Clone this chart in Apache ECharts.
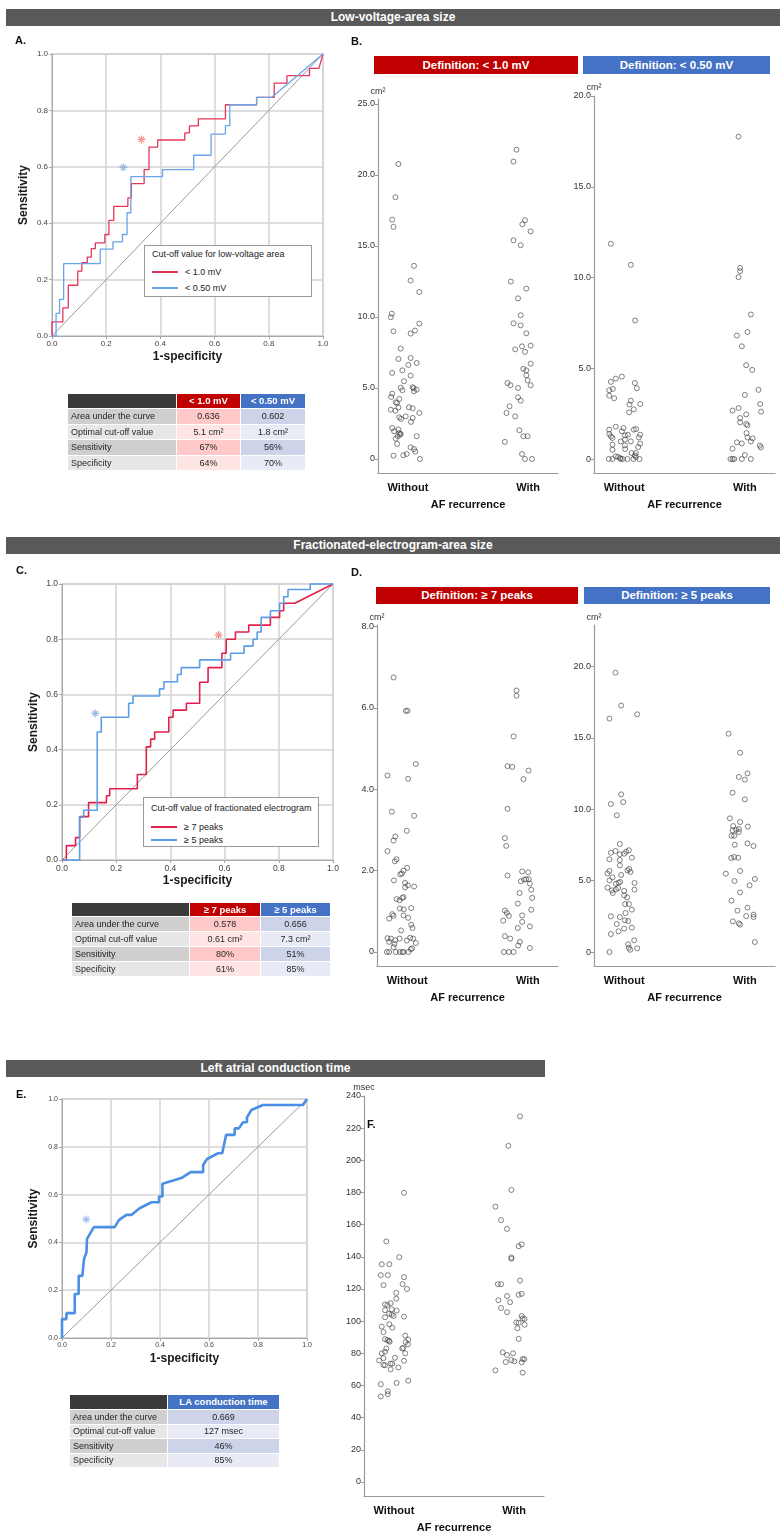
<!DOCTYPE html>
<html>
<head>
<meta charset="utf-8">
<script src="https://cdn.jsdelivr.net/npm/echarts@6.0.0/dist/echarts.min.js"></script>
<style>
html,body{margin:0;padding:0;background:#fff;}
#wrap{position:relative;width:780px;height:1534px;overflow:hidden;font-family:'Liberation Sans',Arial,sans-serif;}
#chart{position:absolute;left:0;top:0;width:780px;height:1534px;}
.bar{position:absolute;color:#fff;font-weight:bold;text-align:center;white-space:nowrap;}
.main{background:#595959;font-family:'Liberation Sans Narrow','Liberation Sans',Arial,sans-serif;font-size:12px;}
.sub{font-size:11.5px;}
.red{background:#C00000;}
.blue{background:#4472C4;}
.lab{position:absolute;font-weight:bold;font-size:11px;color:#111;line-height:12px;}
.leg{position:absolute;border:1px solid #9a9a9a;background:#fff;font-size:9px;color:#222;box-sizing:border-box;}
.leg .t{position:absolute;left:7px;white-space:nowrap;line-height:10px;}
.leg .ln{position:absolute;left:7px;width:26px;height:1.6px;}
.leg .lt{position:absolute;left:40px;white-space:nowrap;line-height:10px;}
table.st{position:absolute;border-collapse:collapse;table-layout:fixed;font-size:9px;color:#262626;}
table.st td{border:1px solid #fff;padding:0 3px;white-space:nowrap;overflow:hidden;line-height:10px;}
</style>
</head>
<body>
<div id="wrap">
<div id="chart"></div>
<div id="ov"></div>
</div>
<script>
// ---------------- DATA ----------------
const catLabels = ['Without', 'With'];

// ROC curves: [1-specificity, sensitivity]
const rocA_lt10 = [[0,0],[0,0.05],[0.04,0.05],[0.04,0.1],[0.06,0.1],[0.06,0.18],[0.095,0.18],[0.095,0.23],[0.11,0.23],[0.11,0.26],[0.13,0.26],[0.13,0.28],[0.145,0.28],[0.145,0.31],[0.16,0.31],[0.16,0.33],[0.195,0.33],[0.195,0.36],[0.21,0.36],[0.21,0.41],[0.228,0.41],[0.228,0.46],[0.28,0.46],[0.28,0.49],[0.293,0.49],[0.293,0.54],[0.34,0.54],[0.34,0.59],[0.358,0.59],[0.358,0.67],[0.39,0.67],[0.39,0.695],[0.49,0.695],[0.49,0.72],[0.507,0.72],[0.507,0.745],[0.54,0.745],[0.54,0.77],[0.64,0.77],[0.64,0.82],[0.755,0.82],[0.755,0.846],[0.82,0.846],[0.82,0.897],[0.867,0.897],[0.867,0.923],[0.95,0.923],[0.95,0.949],[0.985,0.949],[1,1]];
const rocA_lt050 = [[0,0],[0.015,0],[0.015,0.08],[0.028,0.08],[0.028,0.13],[0.043,0.13],[0.043,0.257],[0.178,0.257],[0.178,0.308],[0.225,0.308],[0.225,0.334],[0.26,0.334],[0.26,0.36],[0.277,0.36],[0.277,0.437],[0.291,0.437],[0.291,0.565],[0.408,0.565],[0.408,0.59],[0.523,0.59],[0.523,0.641],[0.587,0.641],[0.587,0.716],[0.64,0.716],[0.64,0.746],[0.656,0.746],[0.656,0.82],[0.755,0.82],[0.755,0.846],[0.81,0.846],[1,1]];
const rocC_ge7 = [[0,0],[0.016,0],[0.016,0.052],[0.05,0.052],[0.05,0.081],[0.065,0.081],[0.065,0.157],[0.098,0.157],[0.098,0.208],[0.164,0.208],[0.164,0.233],[0.176,0.233],[0.176,0.258],[0.278,0.258],[0.278,0.31],[0.311,0.31],[0.311,0.41],[0.327,0.41],[0.327,0.438],[0.342,0.438],[0.342,0.464],[0.394,0.464],[0.394,0.517],[0.41,0.517],[0.41,0.543],[0.459,0.543],[0.459,0.568],[0.508,0.568],[0.508,0.644],[0.539,0.644],[0.539,0.697],[0.59,0.697],[0.59,0.749],[0.606,0.749],[0.606,0.8],[0.64,0.8],[0.64,0.826],[0.689,0.826],[0.689,0.851],[0.769,0.851],[0.769,0.879],[0.803,0.879],[0.803,0.903],[0.818,0.903],[0.818,0.93],[0.859,0.93],[1,1]];
const rocC_ge5 = [[0,0],[0.065,0],[0.065,0.155],[0.08,0.155],[0.08,0.18],[0.13,0.18],[0.13,0.464],[0.145,0.464],[0.145,0.517],[0.246,0.517],[0.246,0.568],[0.262,0.568],[0.262,0.594],[0.36,0.594],[0.36,0.62],[0.376,0.62],[0.376,0.646],[0.426,0.646],[0.426,0.672],[0.44,0.672],[0.44,0.697],[0.508,0.697],[0.508,0.725],[0.622,0.725],[0.622,0.749],[0.672,0.749],[0.672,0.775],[0.705,0.775],[0.705,0.8],[0.72,0.8],[0.72,0.826],[0.735,0.826],[0.735,0.879],[0.769,0.879],[0.769,0.903],[0.803,0.903],[0.803,0.93],[0.818,0.93],[0.818,0.954],[0.834,0.954],[0.834,0.98],[0.916,0.98],[0.916,1],[1,1]];
const rocE_lact = [[0,0],[0,0.079],[0.018,0.079],[0.018,0.104],[0.052,0.104],[0.052,0.184],[0.068,0.184],[0.068,0.26],[0.083,0.26],[0.09,0.33],[0.1,0.36],[0.102,0.415],[0.13,0.464],[0.215,0.464],[0.233,0.494],[0.263,0.515],[0.283,0.515],[0.317,0.543],[0.365,0.568],[0.396,0.568],[0.396,0.592],[0.41,0.592],[0.41,0.645],[0.487,0.669],[0.525,0.694],[0.576,0.694],[0.576,0.724],[0.592,0.749],[0.637,0.773],[0.654,0.773],[0.67,0.85],[0.705,0.85],[0.705,0.877],[0.722,0.877],[0.739,0.903],[0.755,0.903],[0.755,0.923],[0.773,0.954],[0.82,0.975],[0.984,0.975],[1,1]];
const rocDiagonal = [[0,0],[1,1]];

// optimal cut-off points
const cutA_lt10 = [0.33, 0.697];
const cutA_lt050 = [0.263, 0.598];
const cutC_ge7 = [0.578, 0.815];
const cutC_ge5 = [0.123, 0.531];
const cutE_lact = [0.099, 0.496];

// Strip plots: values and horizontal jitter (category units)
const b1WithoutVals = [20.77,18.43,16.85,16.34,13.6,12.56,11.76,10.23,9.98,9.53,8.99,9.04,8.83,7.77,7.04,7.11,6.76,6.62,6.24,6.06,5.87,5.47,5.02,4.84,5.05,4.77,4.88,4.98,4.6,4.37,4.23,3.99,3.94,3.62,3.47,3.4,3.64,3.57,3.24,3.0,2.93,2.82,2.89,2.61,2.18,1.95,2.07,1.83,1.71,1.6,1.76,1.6,1.43,1.06,0.82,0.7,0.52,0.35,0.26,0.23,0];
const b1WithoutJit = [-0.08,-0.105,-0.132,-0.121,0.05,0.022,0.094,-0.135,-0.143,0.094,-0.121,0.058,0.022,-0.061,-0.08,0.022,0.072,0.003,-0.047,-0.132,0.022,-0.033,-0.061,-0.047,0.039,0.05,0.072,0.047,-0.132,-0.14,-0.072,-0.102,-0.091,-0.08,-0.143,-0.105,0.008,0.039,0.094,-0.019,-0.072,-0.058,0.039,0.025,-0.132,-0.116,-0.08,-0.072,-0.066,-0.085,-0.061,0.072,-0.102,-0.091,0.022,0.05,0.061,-0.011,-0.039,-0.121,0.099];
const b1WithVals = [21.78,20.94,16.81,16.53,16.03,15.4,15.05,12.49,12.0,11.31,10.12,9.55,9.41,8.85,7.93,7.98,7.72,7.54,6.71,6.34,6.24,5.89,5.54,5.35,5.19,5.19,5.0,4.34,4.11,3.71,3.24,3.0,2.02,1.6,1.6,1.2,0.35,0,0];
const b1WithJit = [-0.096,-0.121,-0.025,-0.047,0.022,-0.121,-0.061,-0.143,-0.014,-0.083,-0.061,-0.121,-0.061,-0.014,-0.05,0.022,-0.107,-0.025,0.022,-0.039,-0.014,-0.014,-0.003,-0.171,-0.146,0.022,-0.083,-0.083,-0.061,-0.154,-0.179,-0.107,-0.072,-0.039,-0.003,-0.193,-0.05,-0.025,0.033];

const b2WithoutVals = [11.86,10.7,7.63,4.54,4.43,4.25,4.19,3.9,3.79,3.86,3.49,3.35,3.22,3.0,3.03,2.74,2.57,1.78,1.62,1.71,1.65,1.62,1.53,1.38,1.25,1.34,1.34,1.3,1.16,1.19,0.97,1.07,0.97,0.85,0.79,0.75,0.55,0.51,0.66,0.33,0.33,0.2,0.15,0.11,0,0,0,0,0,0,0,0.11,0.05];
const b2WithoutJit = [-0.11,0.055,0.091,-0.019,-0.069,-0.11,0.088,0.105,-0.124,-0.094,-0.124,-0.083,0.055,0.044,0.133,0.08,0.041,-0.069,-0.124,-0.006,0.099,0.08,-0.019,-0.124,-0.11,0.133,0.03,0.006,-0.097,0.122,-0.028,0.006,0.055,0.133,-0.097,0.006,0.008,-0.097,0.116,0.061,0.097,0.088,-0.069,-0.05,-0.127,-0.097,-0.028,-0.011,0.028,0.077,0.127,0.097,-0.033];
const b2WithVals = [17.76,10.53,10.35,10.02,7.96,7.0,6.8,6.21,5.17,4.91,3.81,3.53,3.03,2.81,2.67,2.61,2.46,2.26,2.02,1.93,1.86,1.43,1.19,1.14,0.97,0.92,0.86,0.74,0.64,0.57,0.22,0,0,0,0,0];
const b2WithJit = [-0.052,-0.039,-0.039,-0.052,0.05,0.022,-0.066,-0.025,0.011,0.061,0.113,0,0.127,-0.052,-0.102,0.135,0.011,-0.039,-0.039,0.011,0.022,0.014,0.022,0.064,0.05,-0.066,-0.025,0.124,0.133,-0.102,0,-0.119,-0.102,-0.088,-0.025,0.05];

const d1WithoutVals = [6.75,5.93,5.93,4.62,4.34,4.26,3.45,3.35,2.98,2.84,2.74,2.48,2.28,2.23,2.07,2.0,1.93,1.91,1.76,1.7,1.64,1.59,1.61,1.35,1.33,1.3,1.27,1.07,1.05,1.08,0.93,0.89,0.82,0.9,0.84,0.67,0.59,0.53,0.34,0.33,0.33,0.35,0.33,0.25,0.29,0.2,0.28,0.22,0.12,0.09,0.07,0,0,0,0,0,0,0];
const d1WithoutJit = [-0.113,-0.011,0.003,0.072,-0.163,0.008,-0.127,0.058,-0.003,-0.099,-0.113,-0.163,-0.088,-0.102,0,-0.03,-0.044,-0.058,-0.11,-0.017,0.006,-0.017,0.058,-0.03,-0.041,-0.088,-0.063,-0.061,-0.028,0.033,-0.124,-0.113,-0.149,-0.03,0.008,0.033,0.044,-0.05,-0.163,-0.135,-0.063,0.025,0.05,-0.149,-0.099,-0.105,-0.003,0.072,-0.113,0.041,0.03,-0.168,-0.149,-0.094,-0.061,-0.039,0.011,-0.03];
const d1WithVals = [6.43,6.3,5.3,4.57,4.55,4.46,4.25,3.52,2.8,2.61,1.88,1.98,1.96,1.74,1.78,1.79,1.79,1.68,1.53,1.33,1.45,1.19,1.02,0.96,0.89,0.77,1.04,0.9,0.74,0.59,0.63,0.39,0.33,0.25,0.16,0.1,0,0,0];
const d1WithJit = [-0.094,-0.094,-0.118,-0.168,-0.129,0.006,-0.036,-0.168,-0.19,-0.179,-0.168,-0.047,0.003,-0.058,-0.03,-0.014,0.008,0.017,0.028,0.036,-0.069,-0.083,-0.19,-0.174,-0.157,-0.204,0.028,-0.047,-0.047,-0.083,0.017,-0.19,-0.146,-0.066,-0.08,0.017,-0.198,-0.157,-0.118];

const d2WithoutVals = [19.58,17.27,16.36,16.66,11.05,10.37,10.51,9.58,7.57,6.96,7.08,6.85,6.89,7.03,7.13,6.61,6.5,6.45,6.07,5.72,5.82,5.61,5.51,5.68,5.4,5.23,5.02,4.86,4.79,4.91,4.84,4.51,4.32,4.14,4.39,4.49,4.28,4.37,3.97,3.83,3.36,3.36,2.97,2.73,2.5,2.45,2.22,2.17,1.96,1.71,1.64,1.45,1.26,0.82,0.54,0.3,0.16,0.26,0];
const d2WithoutJit = [-0.072,-0.025,-0.122,0.108,-0.025,-0.11,-0.008,-0.061,-0.036,-0.11,-0.072,-0.036,0,0.017,0.039,0.064,-0.122,-0.036,-0.036,0.028,0.041,0.052,-0.138,-0.122,-0.025,-0.097,-0.122,-0.047,-0.069,-0.033,0.086,-0.138,-0.102,-0.094,-0.069,-0.05,0,0.086,0,0.025,0.008,0.039,0.064,0.011,-0.11,-0.036,0.006,0.033,-0.061,0.064,0,-0.047,-0.11,0.083,0.033,0.039,0.05,0.108,-0.122];
const d2WithVals = [15.3,13.97,12.52,12.27,12.08,11.17,10.7,9.37,9.11,8.83,8.53,8.57,8.41,8.62,8.79,8.15,8.15,7.52,7.62,7.43,6.66,6.59,6.61,5.68,5.49,4.98,5.12,4.67,4.18,3.6,3.11,2.9,2.52,2.62,2.45,2.15,2.01,1.92,0.7];
const d2WithJit = [-0.135,-0.039,0.022,-0.05,0,-0.102,0,-0.124,-0.039,-0.097,-0.102,-0.072,-0.05,-0.05,0.025,-0.11,-0.088,-0.083,0.022,0.072,-0.088,-0.113,-0.055,-0.039,-0.157,-0.086,0.083,0.039,-0.039,-0.11,0.022,-0.061,0.011,0.072,0.072,-0.099,-0.05,-0.039,0.083];

const fWithoutVals = [179.8,149.6,139.8,135.4,135.4,128.6,128.6,127.4,122.4,123,120,117.6,114,111.2,110.4,110,106.8,107.4,106.6,104.6,104,103.2,102.4,102.8,98,96.6,96,93.2,91,88.6,88.8,88.2,87.8,87.2,87,85.6,83.4,83,83,81,80,80,77.2,77,75.6,75.4,72.8,72.6,73.6,73.6,71.2,70,63,61.6,60.8,56.4,54.6,53.2];
const fWithoutJit = [0.083,-0.064,0.044,-0.102,-0.039,-0.11,-0.052,0.083,-0.088,0.072,0.108,0.019,0.019,-0.028,-0.075,-0.055,-0.075,-0.019,0.022,-0.041,-0.019,-0.003,-0.075,0.083,-0.039,-0.102,-0.014,-0.088,0.094,0.119,-0.075,-0.055,-0.041,-0.036,0.097,0.116,0.077,0.069,-0.064,-0.075,-0.102,0.094,0.008,-0.088,-0.124,0.083,-0.088,-0.075,-0.028,-0.014,0.036,-0.028,0.119,0.022,-0.11,-0.052,-0.052,-0.11];
const fWithVals = [227.3,209,181.6,171.2,162.8,157.4,147.8,146.6,139.6,138.8,125.2,123,123,117,116.4,115.6,113,111.8,108.2,105.6,103.2,101.6,101.4,99.2,99,97.8,95.6,89,80.6,80,79,76.4,76.4,75.8,75,74.6,74.4,69.4,68];
const fWithJit = [0.05,-0.047,-0.022,-0.155,-0.108,-0.058,0.064,0.039,-0.022,-0.022,0.05,-0.135,-0.108,0.064,0.039,-0.058,-0.13,-0.033,-0.108,-0.058,0.064,0.072,0.088,0.019,0.039,0.088,0.028,0.039,-0.094,-0.008,-0.058,0.072,0.086,-0.022,0.003,-0.069,0.064,-0.155,0.072];

// axis tick labels
const b1Ticks = [0, 5, 10, 15, 20, 25];
const b2Ticks = [0, 5, 10, 15, 20];
const d1Ticks = [0, 2, 4, 6, 8];
const d2Ticks = [0, 5, 10, 15, 20];
const fTicks = [0, 20, 40, 60, 80, 100, 120, 140, 160, 180, 200, 220, 240];

// tables
const tableRowLabels = ['Area under the curve', 'Optimal cut-off value', 'Sensitivity', 'Specificity'];
const tableA_cols = ['< 1.0 mV', '< 0.50 mV'];
const tableA_vals = [['0.636', '5.1 cm²', '67%', '64%'], ['0.602', '1.8 cm²', '56%', '70%']];
const tableC_cols = ['≥ 7 peaks', '≥ 5 peaks'];
const tableC_vals = [['0.578', '0.61 cm²', '80%', '61%'], ['0.656', '7.3 cm²', '51%', '85%']];
const tableE_cols = ['LA conduction time'];
const tableE_vals = [['0.669', '127 msec', '46%', '85%']];

// ---------------- CHART ----------------
const FONT = "'Liberation Sans', Arial, sans-serif";
const RED = '#E5375B', BLUE = '#69A5EA';
const RED_C = '#E0204A', BLUE_C = '#5C9DE8', BLUE_E = '#4A8FE3';
const starPath = 'path://M5,0L5,10M0,5L10,5M1.6,1.6L8.4,8.4M8.4,1.6L1.6,8.4';

const grids = [], xAxes = [], yAxes = [], series = [];

function addROC(box, fs, curves, markers) {
  const gi = grids.length;
  grids.push({left: box[0], top: box[1], width: box[2], height: box[3], show: true,
    borderColor: '#d3d3d3', borderWidth: 1.5, backgroundColor: 'transparent'});
  const common = {
    gridIndex: gi, type: 'value', min: 0, max: 1, interval: 0.2,
    axisLine: {show: true, onZero: false, lineStyle: {color: '#a8a8a8', width: 1}},
    axisTick: {show: true, length: 3, lineStyle: {color: '#a8a8a8'}},
    splitLine: {show: true, lineStyle: {color: '#d3d3d3', width: 1.5}},
    axisLabel: {fontSize: fs, color: '#444', fontFamily: FONT, margin: 4,
      formatter: v => Number(v).toFixed(1)},
    nameLocation: 'middle',
    nameTextStyle: {fontSize: 12, fontWeight: 'bold', color: '#1a1a1a', fontFamily: FONT}
  };
  xAxes.push(Object.assign({}, common, {name: '1-specificity', nameGap: 15}));
  yAxes.push(Object.assign({}, common, {name: 'Sensitivity', nameGap: 22, nameRotate: 90}));
  series.push({type: 'line', xAxisIndex: gi, yAxisIndex: gi, data: rocDiagonal, showSymbol: false,
    silent: true, clip: false, lineStyle: {color: '#9a9a9a', width: 1}, z: 2});
  curves.forEach(c => series.push({type: 'line', name: c.name, xAxisIndex: gi, yAxisIndex: gi, data: c.data,
    showSymbol: false, silent: true, clip: false, lineStyle: {color: c.color, width: c.width}, z: 3}));
  markers.forEach(m => series.push({type: 'scatter', xAxisIndex: gi, yAxisIndex: gi, data: [m.pt],
    symbol: starPath, symbolSize: 8, silent: true,
    itemStyle: {color: 'none', borderColor: m.color, borderWidth: 1.2}, z: 4}));
}

function addStrip(box, yMin, yMax, ticks, fmt, yName, groups) {
  const gi = grids.length;
  grids.push({left: box[0], top: box[1], width: box[2], height: box[3], show: false});
  xAxes.push({gridIndex: gi, type: 'value', min: -0.25, max: 1.25,
    axisLine: {show: true, onZero: false, lineStyle: {color: '#9a9a9a', width: 1.2}},
    axisTick: {show: false}, splitLine: {show: false},
    axisLabel: {customValues: [0, 1], formatter: v => catLabels[Math.round(v)], fontSize: 11,
      fontWeight: 'bold', color: '#111', fontFamily: FONT, margin: 9},
    name: 'AF recurrence', nameLocation: 'middle', nameGap: 26,
    nameTextStyle: {fontSize: 11, fontWeight: 'bold', color: '#111', fontFamily: FONT}});
  yAxes.push({gridIndex: gi, type: 'value', min: yMin, max: yMax,
    axisLine: {show: true, onZero: false, lineStyle: {color: '#9a9a9a', width: 1.2}},
    axisTick: {show: true, customValues: ticks, length: 3, lineStyle: {color: '#9a9a9a'}},
    splitLine: {show: false},
    axisLabel: {customValues: ticks, formatter: fmt, fontSize: 9, color: '#333', fontFamily: FONT, margin: 3},
    name: yName, nameLocation: 'end', nameGap: 3,
    nameTextStyle: {fontSize: 9, color: '#333', fontFamily: FONT, align: 'center'}});
  groups.forEach((g, k) => series.push({type: 'scatter', xAxisIndex: gi, yAxisIndex: gi, silent: true,
    data: g.vals.map((v, i) => [k + g.jit[i], v]),
    symbol: 'circle', symbolSize: 5,
    itemStyle: {color: 'rgba(255,255,255,0)', borderColor: '#3c3c3c', borderWidth: 0.8}}));
}

const fmt1 = v => (v === 0 ? '0' : Number(v).toFixed(1));
const fmt0 = v => String(v);

// Panel A
addROC([52, 54, 271, 282], 8, [
  {name: '< 1.0 mV', data: rocA_lt10, color: RED, width: 1.3},
  {name: '< 0.50 mV', data: rocA_lt050, color: BLUE, width: 1.3}
], [{pt: cutA_lt10, color: '#F07A7A'}, {pt: cutA_lt050, color: '#7FA7E0'}]);
// Panel B
addStrip([378, 99, 180, 374], -0.99, 25.35, b1Ticks, fmt1, 'cm²',
  [{vals: b1WithoutVals, jit: b1WithoutJit}, {vals: b1WithVals, jit: b1WithJit}]);
addStrip([594, 96, 181, 377], -0.77, 20, b2Ticks, fmt1, 'cm²',
  [{vals: b2WithoutVals, jit: b2WithoutJit}, {vals: b2WithVals, jit: b2WithJit}]);
// Panel C
addROC([62, 584, 271, 276], 8.5, [
  {name: '≥ 7 peaks', data: rocC_ge7, color: RED_C, width: 1.6},
  {name: '≥ 5 peaks', data: rocC_ge5, color: BLUE_C, width: 1.6}
], [{pt: cutC_ge7, color: '#F07A7A'}, {pt: cutC_ge5, color: '#7FA7E0'}]);
// Panel D
addStrip([377, 625, 181, 341], -0.344, 8.04, d1Ticks, fmt1, 'cm²',
  [{vals: d1WithoutVals, jit: d1WithoutJit}, {vals: d1WithVals, jit: d1WithJit}]);
addStrip([594, 625, 181, 341], -0.98, 22.92, d2Ticks, fmt1, 'cm²',
  [{vals: d2WithoutVals, jit: d2WithoutJit}, {vals: d2WithVals, jit: d2WithJit}]);
// Panel E
addROC([62, 1099, 245, 239], 7, [
  {name: 'LA conduction time', data: rocE_lact, color: BLUE_E, width: 2.6}
], [{pt: cutE_lact, color: '#8FB2E6'}]);
// Panel F
addStrip([364, 1096, 180, 401], -8.7, 240, fTicks, fmt0, 'msec',
  [{vals: fWithoutVals, jit: fWithoutJit}, {vals: fWithVals, jit: fWithJit}]);

const chart = echarts.init(document.getElementById('chart'), null, {renderer: 'canvas'});
chart.setOption({
  animation: false,
  backgroundColor: '#fff',
  textStyle: {fontFamily: FONT},
  grid: grids, xAxis: xAxes, yAxis: yAxes, series: series
});

// ---------------- OVERLAY TEXT / TABLES ----------------
const ov = document.getElementById('ov');
function add(html) { ov.insertAdjacentHTML('beforeend', html); }

function bar(cls, l, t, w, h, txt) {
  add(`<div class="bar ${cls}" style="left:${l}px;top:${t}px;width:${w}px;height:${h}px;line-height:${h}px">${txt}</div>`);
}
bar('main', 6, 9, 774, 17, 'Low-voltage-area size');
bar('main', 6, 537, 774, 17, 'Fractionated-electrogram-area size');
bar('main', 6, 1060, 539, 17, 'Left atrial conduction time');
bar('sub red', 374, 56, 204, 18, 'Definition: &lt; 1.0 mV');
bar('sub blue', 583, 56, 187, 18, 'Definition: &lt; 0.50 mV');
bar('sub red', 376, 587, 202, 17, 'Definition: ≥ 7 peaks');
bar('sub blue', 584, 587, 186, 17, 'Definition: ≥ 5 peaks');

function lab(l, t, txt) { add(`<div class="lab" style="left:${l}px;top:${t}px">${txt}</div>`); }
lab(15, 34, 'A.'); lab(351, 35, 'B.');
lab(16, 564, 'C.'); lab(351, 566, 'D.');
lab(16, 1088, 'E.'); lab(367, 1118, 'F.');

function legend(l, t, w, h, title, tTop, items) {
  let s = `<div class="leg" style="left:${l}px;top:${t}px;width:${w}px;height:${h}px">`;
  s += `<div class="t" style="top:${tTop - 5}px">${title}</div>`;
  items.forEach(it => {
    s += `<div class="ln" style="top:${it.y}px;background:${it.c}"></div>`;
    s += `<div class="lt" style="top:${it.y - 4}px">${it.txt}</div>`;
  });
  add(s + '</div>');
}
legend(144, 245, 168, 52, 'Cut-off value for low-voltage area', 8,
  [{y: 25, c: RED, txt: '&lt; 1.0 mV'}, {y: 41, c: BLUE, txt: '&lt; 0.50 mV'}]);
legend(143, 797, 176, 50, 'Cut-off value of fractionated electrogram', 10,
  [{y: 28, c: RED_C, txt: '≥ 7 peaks'}, {y: 41, c: BLUE_C, txt: '≥ 5 peaks'}]);

const colStyles = {
  red: {head: '#C00000', a: '#FFC9C9', b: '#FFE4E4'},
  blue: {head: '#4472C4', a: '#CDD4EA', b: '#E8EBF5'}
};
function table(l, t, widths, headH, rowH, cols, vals, styles) {
  const tw = widths.reduce((a, b) => a + b, 0);
  let s = `<table class="st" style="left:${l}px;top:${t}px;width:${tw}px">`;
  s += '<colgroup>' + widths.map(w => `<col style="width:${w}px">`).join('') + '</colgroup>';
  s += `<tr style="height:${headH}px"><td style="background:#3A3A3A"></td>`;
  cols.forEach((c, j) => {
    s += `<td style="background:${colStyles[styles[j]].head};color:#fff;font-weight:bold;text-align:center;font-size:9.5px">${c.replace('<', '&lt;')}</td>`;
  });
  s += '</tr>';
  tableRowLabels.forEach((r, i) => {
    const alt = i % 2 === 0;
    s += `<tr style="height:${rowH}px"><td style="background:${alt ? '#D0CECE' : '#E8E7E7'}">${r}</td>`;
    cols.forEach((c, j) => {
      const cs = colStyles[styles[j]];
      s += `<td style="background:${alt ? cs.a : cs.b};text-align:center">${vals[j][i]}</td>`;
    });
    s += '</tr>';
  });
  add(s + '</table>');
}
table(67, 393, [109, 64, 65], 15, 15.5, tableA_cols, tableA_vals, ['red', 'blue']);
table(71, 902, [118, 71, 70], 14, 15, tableC_cols, tableC_vals, ['red', 'blue']);
table(69, 1394, [98, 112], 15, 14.5, tableE_cols, tableE_vals, ['blue']);
</script>
</body>
</html>
